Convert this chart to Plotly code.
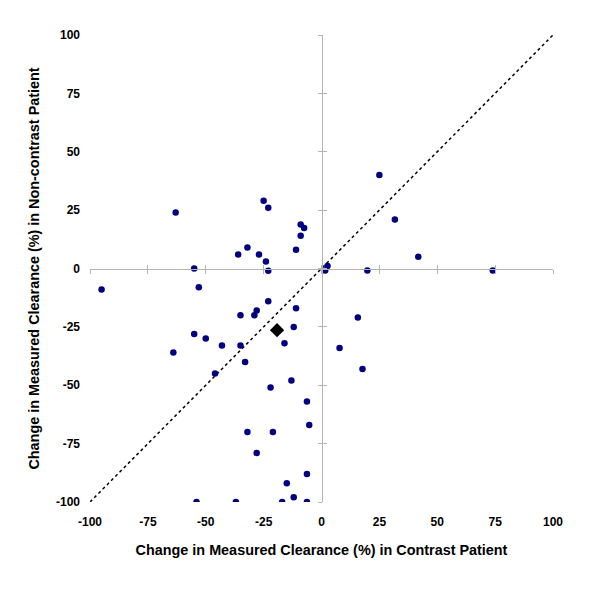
import plotly.graph_objects as go

# Change in measured clearance (%) : contrast patient (x) vs non-contrast patient (y)
contrast_change = [
    -63, -55, -36, -32, -27, -25, -23, -24, -23, -11, -9, -9, -7.5, 2.6, 1.6,
    25, 31.7, 41.8, 19.8, 74,
    -95, -53, -23, -11, -35, -29, -28, -12, -55, -50, -43, -35, -16, -64,
    -33, -46, -13, -22, -6.3, -5.3, -32, -21, -28, -6.3, -15, -12, -54, -37,
    -17, -6.3,
    15.7, 7.8, 17.7,
]
noncontrast_change = [
    24, 0, 6, 9, 6, 29, 26, 3, -1, 8, 14, 18.8, 17.3, 1.1, -0.9,
    40, 21, 5, -0.9, -0.9,
    -9, -8, -14, -17, -20, -20, -18, -25, -28, -30, -33, -33, -32, -36,
    -40, -45, -48, -51, -57, -67, -70, -70, -79, -88, -92, -98, -100, -100,
    -100, -100,
    -21, -34, -43,
]
mean_x = [-19.2]
mean_y = [-26.4]
identity = [-100, 100]
ticks = [-100, -75, -50, -25, 0, 25, 50, 75, 100]
tick_text = [str(t) for t in ticks]

fig = go.Figure()
fig.add_trace(go.Scatter(
    x=identity, y=identity, mode="lines",
    line=dict(color="black", width=1.5, dash="dot"),
    showlegend=False, hoverinfo="skip"))
fig.add_trace(go.Scatter(
    x=contrast_change, y=noncontrast_change, mode="markers",
    marker=dict(color="#000080", size=6.5, symbol="circle"),
    showlegend=False))
fig.add_trace(go.Scatter(
    x=mean_x, y=mean_y, mode="markers",
    marker=dict(color="black", size=11, symbol="diamond"),
    showlegend=False))
# dummy traces to activate overlay axes at zero
fig.add_trace(go.Scatter(x=[], y=[], xaxis="x2", yaxis="y2", showlegend=False))
fig.add_trace(go.Scatter(x=[], y=[], xaxis="x3", yaxis="y3", showlegend=False))

font_b = dict(family="Liberation Sans, Arial", size=12, color="black", weight="bold")
title_font = dict(family="Liberation Sans, Arial", size=14.4, color="black", weight="bold")
axis_line = "#b4b4b4"

fig.update_layout(
    width=600, height=600,
    margin=dict(l=82, r=55, t=27, b=106, autoexpand=False),
    plot_bgcolor="white", paper_bgcolor="white",
    xaxis=dict(range=[-100, 100], tickvals=ticks, ticktext=tick_text,
               showgrid=False, zeroline=False, showline=False, ticks="",
               tickfont=font_b, ticklabelstandoff=11, automargin=False,
               title=dict(text="Change in Measured Clearance (%) in Contrast Patient",
                          font=title_font, standoff=16)),
    yaxis=dict(range=[-100, 100], tickvals=ticks, ticktext=tick_text,
               showgrid=False, zeroline=False, showline=False, ticks="",
               tickfont=font_b, ticklabelstandoff=9, automargin=False,
               title=dict(text="Change in Measured Clearance (%) in Non-contrast Patient",
                          font=title_font, standoff=12)),
    xaxis2=dict(range=[-100, 100], tickvals=ticks, overlaying="x", anchor="free",
                position=0.5, showline=True, linecolor=axis_line, linewidth=1,
                ticks="outside", ticklen=4, tickcolor=axis_line,
                showticklabels=False, showgrid=False, zeroline=False),
    yaxis2=dict(range=[-100, 100], tickvals=ticks, overlaying="y", anchor="free",
                position=0.5, showline=True, linecolor=axis_line, linewidth=1,
                ticks="outside", ticklen=4, tickcolor=axis_line,
                showticklabels=False, showgrid=False, zeroline=False),
    xaxis3=dict(range=[-100, 100], tickvals=ticks, overlaying="x", anchor="free",
                position=0.5, showline=False,
                ticks="inside", ticklen=4, tickcolor=axis_line,
                showticklabels=False, showgrid=False, zeroline=False),
    yaxis3=dict(range=[-100, 100], tickvals=ticks, overlaying="y", anchor="free",
                position=0.5, showline=False,
                ticks="inside", ticklen=4, tickcolor=axis_line,
                showticklabels=False, showgrid=False, zeroline=False),
)

fig.write_html("out.html")
